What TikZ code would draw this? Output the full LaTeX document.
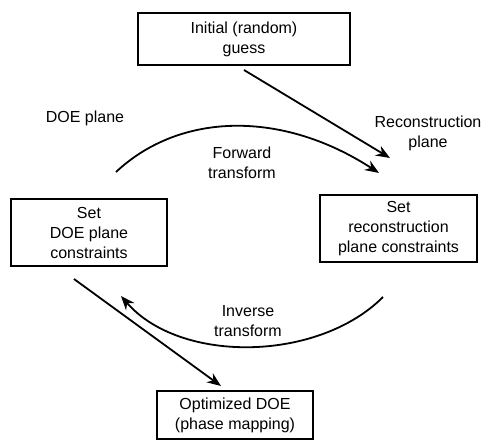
\documentclass[tikz,border=0pt]{standalone}
\usepackage{fontspec}
\setmainfont{Liberation Sans}
\usetikzlibrary{arrows.meta}
\begin{document}
\begin{tikzpicture}[x=1pt,y=-1pt,
  box/.style={draw,line width=1.4pt,align=center,font=\fontsize{16}{20}\selectfont,inner sep=0pt},
  lbl/.style={align=center,font=\fontsize{16}{20}\selectfont},
  arr/.style={line width=1.8pt,-{Stealth[length=14pt,width=11pt]}}]
\useasboundingbox (0,0) rectangle (486,440);
\node[box,minimum width=212pt,minimum height=52pt] (init) at (244,39) {Initial (random)\\guess};
\node[box,minimum width=156pt,minimum height=67pt] (doe) at (89,232.5) {Set\\DOE plane\\constraints};
\node[box,minimum width=157pt,minimum height=67pt] (rec) at (398.5,228.5) {Set\\reconstruction\\plane constraints};
\node[box,minimum width=156pt,minimum height=48pt] (opt) at (235,415) {Optimized DOE\\(phase mapping)};
\node[lbl] (doel) at (85,118) {DOE plane};
\node[lbl] (recl) at (428,133) {Reconstruction\\plane};
\node[lbl] (fwd) at (242,163) {Forward\\transform};
\node[lbl] (inv) at (248,321) {Inverse\\transform};
\coordinate (a1s) at (244,70);
\coordinate (a1e) at (390,158);
\coordinate (fs) at (116,172);
\coordinate (fe) at (379,173);
\coordinate (is) at (383,297);
\coordinate (ie) at (121,296);
\coordinate (a2s) at (74,279);
\coordinate (a2e) at (221,386);
\draw[arr] (a1s) -- (a1e);
\draw[arr] (fs) .. controls (180,112) and (282,110) .. (fe);
\draw[arr] (is) .. controls (318,362) and (180,364) .. (ie);
\draw[arr] (a2s) -- (a2e);
\end{tikzpicture}
\end{document}
